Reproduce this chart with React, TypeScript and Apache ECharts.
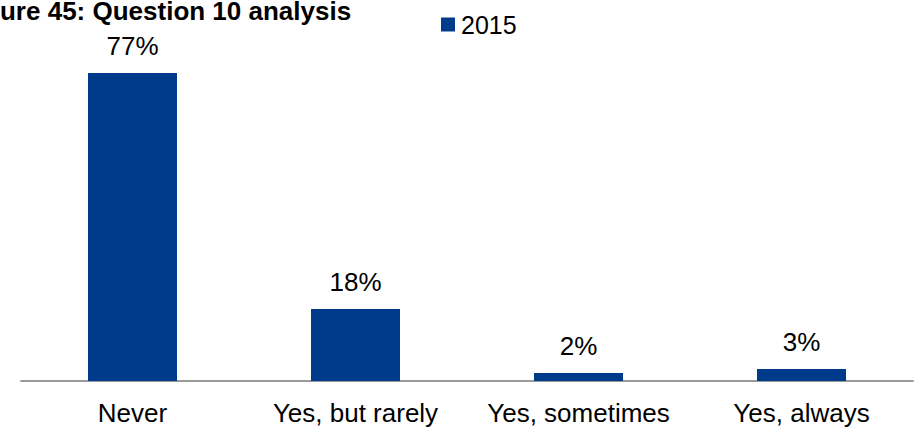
import React, { useEffect, useRef } from "react";
import * as echarts from "echarts";

const categories = ["Never", "Yes, but rarely", "Yes, sometimes", "Yes, always"];
const values2015 = [77, 18, 2, 3];
const seriesName = "2015";
const titleText = "Figure 45: Question 10 analysis";

export default function App() {
  const ref = useRef<HTMLDivElement>(null);
  useEffect(() => {
    if (!ref.current) return;
    const chart = echarts.init(ref.current, null, { renderer: "svg" });
    const font = "Liberation Sans, Arial, sans-serif";
    chart.setOption({
      animation: false,
      textStyle: { fontFamily: font },
      graphic: [
        {
          type: "text",
          left: -39,
          top: -2,
          style: {
            text: titleText,
            font: "bold 26px Liberation Sans, Arial, sans-serif",
            fill: "#000",
          },
        },
      ],
      legend: {
        left: 436,
        top: 7,
        itemWidth: 14,
        itemHeight: 14,
        itemGap: 6,
        icon: "rect",
        textStyle: { fontSize: 25, color: "#000", fontFamily: font, padding: [0, 0, 0, 1] },
        data: [seriesName],
      },
      grid: { left: 21, right: 6, top: 61, bottom: 50, containLabel: false },
      xAxis: {
        type: "category",
        data: categories,
        axisLine: { lineStyle: { color: "#9a9a9a", width: 2 } },
        axisTick: { show: false },
        axisLabel: {
          fontSize: 26,
          color: "#000",
          margin: 19,
          fontFamily: font,
          interval: 0,
          hideOverlap: false,
        },
      },
      yAxis: {
        type: "value",
        min: 0,
        max: 80,
        show: false,
        splitLine: { show: false },
      },
      series: [
        {
          name: seriesName,
          type: "bar",
          data: values2015,
          barWidth: 89,
          itemStyle: { color: "#003A8A" },
          label: {
            show: true,
            position: "top",
            distance: 14,
            formatter: "{c}%",
            fontSize: 26,
            color: "#000",
            fontFamily: font,
          },
        },
      ],
    });
    return () => chart.dispose();
  }, []);
  return <div ref={ref} style={{ width: 919, height: 431, position: "absolute", left: 0, top: 0 }} />;
}
